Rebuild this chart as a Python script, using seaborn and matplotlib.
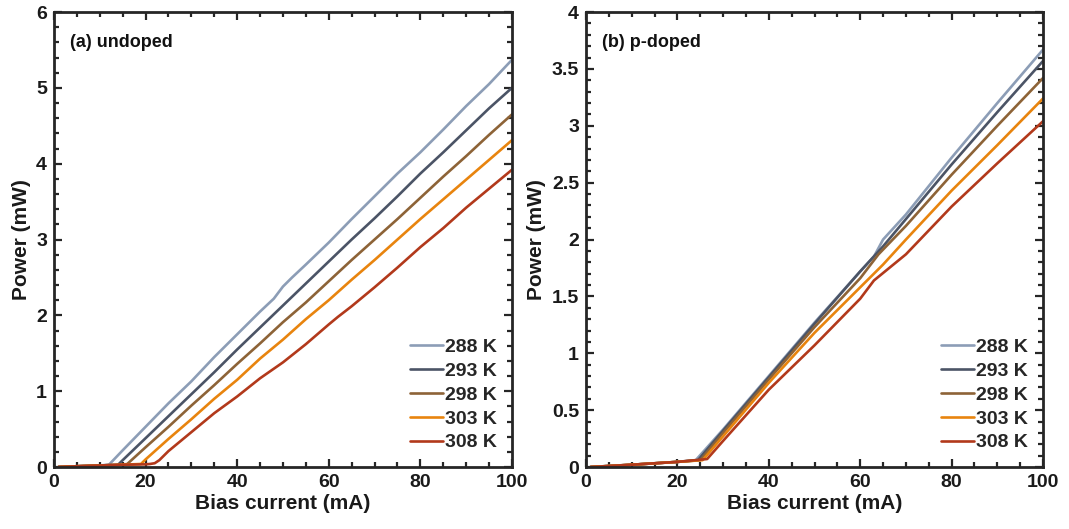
import numpy as np
import pandas as pd
import matplotlib
matplotlib.use("Agg")
import matplotlib.pyplot as plt
import seaborn as sns
from matplotlib.ticker import MultipleLocator

temps = ["288 K", "293 K", "298 K", "303 K", "308 K"]
colors = ["#8c9db6", "#4b5466", "#8d6337", "#e8840e", "#b2391b"]

# (a) undoped
a_x_288 = [1, 5, 10, 12, 15, 20, 25, 30, 35, 40, 45, 48, 50, 52, 55, 60, 65, 70, 75, 80, 85, 90, 95, 100]
a_y_288 = [0.0, 0.01, 0.02, 0.03, 0.22, 0.53, 0.84, 1.13, 1.45, 1.75, 2.05, 2.22, 2.38, 2.50, 2.67, 2.96, 3.27, 3.57, 3.87, 4.15, 4.45, 4.76, 5.05, 5.37]
a_x_293 = [1, 5, 10, 14, 15, 20, 25, 30, 35, 40, 45, 50, 55, 60, 65, 70, 75, 80, 85, 90, 95, 100]
a_y_293 = [0.0, 0.01, 0.02, 0.03, 0.09, 0.38, 0.67, 0.96, 1.25, 1.55, 1.84, 2.13, 2.42, 2.71, 3.0, 3.28, 3.57, 3.87, 4.15, 4.44, 4.73, 5.0]
a_x_298 = [1, 5, 10, 15, 16, 20, 25, 30, 35, 40, 45, 50, 55, 60, 65, 70, 75, 80, 85, 90, 95, 100]
a_y_298 = [0.0, 0.01, 0.02, 0.03, 0.04, 0.26, 0.53, 0.81, 1.08, 1.36, 1.63, 1.91, 2.17, 2.45, 2.73, 3.0, 3.27, 3.55, 3.83, 4.1, 4.38, 4.65]
a_x_303 = [1, 5, 10, 15, 19, 20, 25, 30, 35, 40, 45, 50, 55, 60, 65, 70, 75, 80, 85, 90, 95, 100]
a_y_303 = [0.0, 0.01, 0.02, 0.03, 0.04, 0.1, 0.37, 0.63, 0.9, 1.15, 1.43, 1.68, 1.95, 2.2, 2.47, 2.73, 3.0, 3.27, 3.53, 3.79, 4.05, 4.31]
a_x_308 = [1, 5, 10, 15, 20, 21, 22, 23, 24, 25, 30, 35, 40, 45, 50, 55, 60, 62, 65, 70, 75, 80, 85, 90, 95, 100]
a_y_308 = [0.0, 0.01, 0.02, 0.03, 0.035, 0.04, 0.05, 0.09, 0.15, 0.21, 0.46, 0.71, 0.93, 1.17, 1.38, 1.62, 1.88, 1.98, 2.12, 2.37, 2.63, 2.9, 3.15, 3.42, 3.67, 3.92]

# (b) p-doped
b_x_288 = [1, 10, 20, 24, 30, 40, 50, 60, 63, 65, 70, 80, 90, 100]
b_y_288 = [0.0, 0.02, 0.045, 0.06, 0.33, 0.8, 1.27, 1.72, 1.85, 2.0, 2.22, 2.72, 3.2, 3.67]
b_x_293 = [1, 10, 20, 24.5, 30, 40, 50, 60, 65, 70, 80, 90, 100]
b_y_293 = [0.0, 0.02, 0.045, 0.06, 0.32, 0.79, 1.26, 1.72, 1.94, 2.18, 2.66, 3.12, 3.57]
b_x_298 = [1, 10, 20, 25, 30, 40, 50, 60, 64, 70, 80, 90, 100]
b_y_298 = [0.0, 0.02, 0.045, 0.06, 0.3, 0.77, 1.23, 1.66, 1.87, 2.12, 2.57, 3.0, 3.42]
b_x_303 = [1, 10, 20, 25.5, 30, 40, 50, 60, 65, 70, 80, 90, 100]
b_y_303 = [0.0, 0.02, 0.045, 0.06, 0.27, 0.74, 1.18, 1.58, 1.78, 2.0, 2.43, 2.83, 3.24]
b_x_308 = [1, 10, 20, 26.5, 30, 32, 40, 50, 60, 63, 70, 80, 90, 100]
b_y_308 = [0.0, 0.02, 0.045, 0.07, 0.23, 0.32, 0.68, 1.07, 1.48, 1.64, 1.87, 2.29, 2.67, 3.04]

panel_a = [(a_x_288, a_y_288), (a_x_293, a_y_293), (a_x_298, a_y_298), (a_x_303, a_y_303), (a_x_308, a_y_308)]
panel_b = [(b_x_288, b_y_288), (b_x_293, b_y_293), (b_x_298, b_y_298), (b_x_303, b_y_303), (b_x_308, b_y_308)]


def to_df(series):
    rows = []
    for t, (xs, ys) in zip(temps, series):
        for x, y in zip(xs, ys):
            rows.append({"I": x, "P": y, "T": t})
    return pd.DataFrame(rows)


sns.set_theme(style="white")
plt.rcParams["font.family"] = ["Liberation Sans", "DejaVu Sans"]
plt.rcParams["font.weight"] = "bold"
plt.rcParams["axes.labelweight"] = "bold"

fig = plt.figure(figsize=(10.69, 5.29), dpi=100)
axA = fig.add_axes([0.0505, 0.1172, 0.4284, 0.860])
axB = fig.add_axes([0.5482, 0.1172, 0.4275, 0.860])
palette = dict(zip(temps, colors))
spine_c = "#262626"

for ax, series, ymax, ymaj, ymin_, label in [
    (axA, panel_a, 6, 1, 0.2, "(a) undoped"),
    (axB, panel_b, 4, 0.5, 0.1, "(b) p-doped"),
]:
    df = to_df(series)
    sns.lineplot(data=df, x="I", y="P", hue="T", palette=palette, ax=ax,
                 linewidth=1.9, sort=False, estimator=None)
    ax.set_xlim(0, 100)
    ax.set_ylim(0, ymax)
    ax.xaxis.set_major_locator(MultipleLocator(20))
    ax.xaxis.set_minor_locator(MultipleLocator(5))
    ax.yaxis.set_major_locator(MultipleLocator(ymaj))
    ax.yaxis.set_minor_locator(MultipleLocator(ymin_))
    ax.yaxis.set_major_formatter(matplotlib.ticker.FuncFormatter(lambda v, p: f"{v:g}"))
    ax.tick_params(which="both", direction="in", top=True, right=True, bottom=True, left=True,
                   color=spine_c, labelsize=14, width=1.6, pad=5, labelcolor="#1a1a1a")
    ax.tick_params(which="major", length=6)
    ax.tick_params(which="minor", length=3.5)
    for s in ax.spines.values():
        s.set_color(spine_c)
        s.set_linewidth(2)
    ax.set_xlabel("Bias current (mA)", fontsize=15, fontweight="bold", color="#1a1a1a", labelpad=2)
    ax.set_ylabel("Power (mW)", fontsize=15, fontweight="bold", color="#1a1a1a", labelpad=4)
    ax.text(0.035, 0.952, label, transform=ax.transAxes, fontsize=13, fontweight="bold",
            va="top", ha="left", color="#111111")
    leg = ax.legend(loc="lower right", frameon=False, fontsize=14, handlelength=1.7,
                    handletextpad=0.1, labelspacing=0.32, borderaxespad=0.4, title=None)
    for t in leg.get_texts():
        t.set_fontweight("bold")

fig.savefig("out.png", dpi=100)
